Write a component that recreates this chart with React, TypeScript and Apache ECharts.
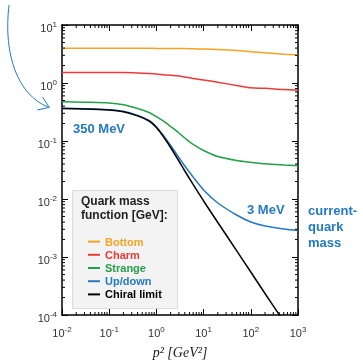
import React, { useEffect, useRef } from "react";
import * as echarts from "echarts";

// p^2 sample points [GeV^2]
const p2 = [0.01, 0.03, 0.1, 0.2, 0.4, 0.7, 1, 1.5, 2, 3, 4, 6, 10, 20, 50, 100, 200, 500, 1000];
// quark mass functions M(p^2) [GeV]
const bottomMass = [3.96, 3.96, 3.96, 3.96, 3.96, 3.96, 3.95, 3.95, 3.94, 3.93, 3.92, 3.89, 3.85, 3.77, 3.63, 3.47, 3.32, 3.14, 3.04];
const charmMass = [1.51, 1.51, 1.51, 1.51, 1.49, 1.46, 1.43, 1.38, 1.36, 1.32, 1.27, 1.2, 1.13, 1.03, 0.906, 0.826, 0.811, 0.773, 0.757];
const strangeMass = [0.476, 0.467, 0.452, 0.421, 0.363, 0.31, 0.264, 0.213, 0.178, 0.1374, 0.1127, 0.0871, 0.0686, 0.054, 0.0461, 0.043, 0.0405, 0.0386, 0.0375];
const upDownMass = [0.366, 0.361, 0.347, 0.325, 0.276, 0.226, 0.176, 0.116, 0.0835, 0.052, 0.0371, 0.0239, 0.0143, 0.00853, 0.0053, 0.00401, 0.00342, 0.00304, 0.00286];
const chiralMass = [0.362, 0.357, 0.342, 0.319, 0.2716, 0.2213, 0.171, 0.1104, 0.0773, 0.0452, 0.0304, 0.0178, 0.00925, 0.00394, 0.00129, 0.000551, 0.000235, 0.0000772];

const seriesNames = ["Bottom", "Charm", "Strange", "Up/down", "Chiral limit"];
const seriesColors = ["#f6a323", "#ec3a3a", "#24a04a", "#2479c4", "#000000"];
const seriesValues = [bottomMass, charmMass, strangeMass, upDownMass, chiralMass];

// axis tick exponents
const xTickExponents = [-2, -1, 0, 1, 2, 3];
const yTickExponents = [-4, -3, -2, -1, 0, 1];

const X_MIN = 0.01, X_MAX = 1000, Y_MIN = 1e-4, Y_MAX = 10;

function minorTicks(exps: number[]) {
  const out: number[] = [];
  for (let i = 0; i < exps.length - 1; i++) {
    for (let k = 2; k <= 9; k++) out.push(Number((k * Math.pow(10, exps[i])).toPrecision(3)));
  }
  return out;
}

const labelFmt = (v: number) => {
  const e = Math.round(Math.log10(v));
  return `{b|10}{s|${e}}`;
};

const richLabel = {
  b: { fontSize: 11, color: "#333", fontFamily: "Liberation Sans", lineHeight: 15 },
  s: { fontSize: 8, color: "#333", fontFamily: "Liberation Sans", verticalAlign: "top" as const, lineHeight: 9 },
};

export default function App() {
  const ref = useRef<HTMLDivElement>(null);
  useEffect(() => {
    if (!ref.current) return;
    const chart = echarts.init(ref.current, undefined, { renderer: "svg" });
    const blue = "#2479c4";
    const axisCommon = {
      axisLine: { show: true, onZero: false, lineStyle: { color: "#000", width: 1.5 } },
      axisTick: { show: true, inside: true, length: 6, lineStyle: { color: "#000", width: 1 } },
      splitLine: { show: false },
    };
    const tickLine = (x1: number, y1: number, x2: number, y2: number) => ({
      type: "line",
      shape: { x1, y1, x2, y2 },
      style: { stroke: "#000", lineWidth: 1 },
    });
    const option: any = {
      animation: false,
      grid: { left: 62, top: 25, width: 236, height: 290, outerBoundsMode: "none", containLabel: false },
      xAxis: [
        {
          type: "log", logBase: 10, min: X_MIN, max: X_MAX, splitNumber: 5, position: "bottom",
          ...axisCommon,
          axisLabel: { formatter: labelFmt, rich: richLabel, margin: 10 },
          name: "p² [GeV²]",
          nameLocation: "middle",
          nameGap: 30,
          nameTextStyle: { fontFamily: "Liberation Serif", fontStyle: "italic", fontSize: 14, color: "#222" },
        },
        {
          type: "log", logBase: 10, min: X_MIN, max: X_MAX, splitNumber: 5, position: "top",
          ...axisCommon,
          axisLabel: { show: false },
        },
      ],
      yAxis: [
        {
          type: "log", logBase: 10, min: Y_MIN, max: Y_MAX, splitNumber: 5, position: "left",
          ...axisCommon,
          axisLabel: { formatter: labelFmt, rich: richLabel, margin: 5, padding: [6, 0, 0, 0] },
        },
        {
          type: "log", logBase: 10, min: Y_MIN, max: Y_MAX, splitNumber: 5, position: "right",
          ...axisCommon,
          axisLabel: { show: false },
        },
      ],
      legend: {
        orient: "vertical",
        left: 83,
        top: 230,
        icon: "rect",
        itemWidth: 12,
        itemHeight: 2,
        itemGap: 0,
        selectedMode: false,
        textStyle: { fontFamily: "Liberation Sans", fontWeight: "bold", fontSize: 11, lineHeight: 13.2 },
        data: seriesNames.map((n, i) => ({ name: n, textStyle: { color: seriesColors[i] } })),
      },
      graphic: [
        {
          type: "rect", left: 72, top: 190, z: 0,
          shape: { width: 105, height: 118 },
          style: { fill: "#f3f3f3", stroke: "#dddddd", lineWidth: 1 },
        },
        {
          type: "text", left: 81, top: 194, z: 1,
          style: { text: "Quark mass\nfunction [GeV]:", fill: "#222", font: "bold 12px 'Liberation Sans'", lineHeight: 14 },
        },
        {
          type: "text", left: 73, top: 122,
          style: { text: "350 MeV", fill: blue, font: "bold 13px 'Liberation Sans'" },
        },
        {
          type: "text", left: 247, top: 203,
          style: { text: "3 MeV", fill: blue, font: "bold 13px 'Liberation Sans'" },
        },
        {
          type: "text", left: 308, top: 202,
          style: { text: "current-\nquark\nmass", fill: blue, font: "bold 13px 'Liberation Sans'", lineHeight: 16 },
        },
        {
          type: "bezierCurve",
          shape: { x1: 9, y1: 5, cpx1: 3, cpy1: 55, cpx2: 18, cpy2: 95, x2: 48, y2: 107 },
          style: { stroke: blue, lineWidth: 1, fill: "none" },
        },
        {
          type: "polyline",
          shape: { points: [[42.7, 97.3], [49.3, 107.3], [37.3, 110]] },
          style: { stroke: blue, lineWidth: 1, fill: "none" },
        },
      ],
      series: [
        ...seriesNames.map((name, i) => ({
          name,
          type: "line",
          xAxisIndex: 0,
          yAxisIndex: 0,
          smooth: 0.3,
          showSymbol: false,
          symbol: "none",
          clip: true,
          z: 3 + i,
          lineStyle: { color: seriesColors[i], width: 1.5 },
          itemStyle: { color: seriesColors[i] },
          data: seriesValues[i].map((v, j) => [p2[j], v]),
        })),
        {
          type: "custom",
          name: "xminor",
          xAxisIndex: 0,
          yAxisIndex: 0,
          silent: true,
          z: 10,
          data: minorTicks(xTickExponents).map((v) => [v, 1]),
          renderItem: (_p: any, api: any) => {
            const v = api.value(0);
            const b = api.coord([v, Y_MIN]);
            const t = api.coord([v, Y_MAX]);
            return {
              type: "group",
              children: [tickLine(b[0], b[1], b[0], b[1] - 3), tickLine(t[0], t[1], t[0], t[1] + 3)],
            };
          },
        },
        {
          type: "custom",
          name: "yminor",
          xAxisIndex: 0,
          yAxisIndex: 0,
          silent: true,
          z: 10,
          data: minorTicks(yTickExponents).map((v) => [1, v]),
          renderItem: (_p: any, api: any) => {
            const v = api.value(1);
            const l = api.coord([X_MIN, v]);
            const r = api.coord([X_MAX, v]);
            return {
              type: "group",
              children: [tickLine(l[0], l[1], l[0] + 3, l[1]), tickLine(r[0], r[1], r[0] - 3, r[1])],
            };
          },
        },
      ],
    };
    chart.setOption(option);
    return () => chart.dispose();
  }, []);
  return <div ref={ref} style={{ position: "fixed", left: 0, top: 0, width: 363, height: 360 }} />;
}
